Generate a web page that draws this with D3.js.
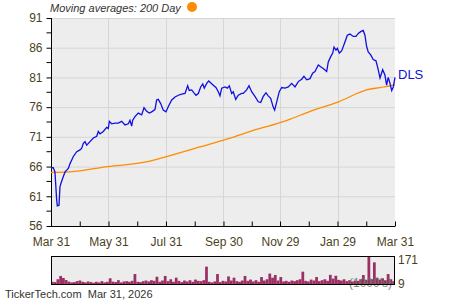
<!DOCTYPE html>
<html>
<head>
<meta charset="utf-8">
<script src="https://cdn.jsdelivr.net/npm/d3@7"></script>
<style>
  body { margin: 0; background: #fff; }
  svg { font-family: "Liberation Sans", Arial, sans-serif; }
</style>
</head>
<body>
<svg width="450" height="300"></svg>
<script>
// days after 2025-03-31 and the price
const priceDays = [0, 2.4, 4.2, 6, 6.7, 8.5, 9.5, 10.6, 13, 14.9, 18.4, 20.2, 22, 23.7, 27.3, 30.8, 32.6, 34.3, 36.1, 37.9,
  41.4, 44.9, 48.5, 50.2, 52, 55.5, 59.1, 60.8, 61.9, 64.4, 67.9, 71.4, 75, 78.5, 82, 83.8, 85.6, 86.7, 89.1, 92.6,
  96.2, 98.7, 101.6, 104.3, 106.8, 110.3, 112.1, 113.8, 116.4, 119.1, 122, 124.5, 128.1, 131.6, 135.1, 138.7, 142.2, 145, 146.7, 149.3,
  151.7, 153.8, 156.3, 158.8, 161, 162.6, 165.2, 167.3, 169.4, 172.2, 175, 177.5, 179.3, 181.1, 184.6, 187.1, 189.2, 191.7, 193.4, 196,
  198.7, 202.3, 204, 207.6, 210.1, 212.9, 216.4, 219.9, 222.5, 225.2, 228.1, 230.5, 233.1, 235.8, 237.3, 239.5, 242.2, 244.8, 248.3, 251.8,
  255.4, 258.9, 262.4, 266, 268.4, 271.3, 274.8, 277.6, 280.1, 283.6, 286.1, 288.9, 292.5, 294.2, 296.8, 298.9, 300.3, 302.4, 303.8, 305.9,
  308.5, 312, 314.4, 317.2, 320.7, 323.6, 326, 328.6, 331.3, 333.1, 334.9, 336.6, 339.2, 341.9, 344.8, 347.2, 349.1, 351.9, 354.3, 356.1,
  357.8, 359.7, 361.5, 363.2, 365];
const priceValues = [65.8, 65.8, 65.1, 60.4, 59.4, 59.5, 62.6, 63.2, 64.3, 65.1, 65.7, 66.5, 67.1, 67.7, 68.5, 68.8, 69.1, 69.9, 70.2, 69.6,
  70.2, 70.8, 71.1, 71.9, 71.5, 71.9, 72.6, 72.4, 73.6, 73.2, 73.3, 73.3, 73.6, 73.0, 73.2, 73.8, 72.8, 73.8, 74.4, 75.0,
  74.7, 75.9, 75.3, 75.0, 75.2, 75.6, 77.2, 77.3, 76.6, 75.5, 75.2, 76.1, 77.2, 77.7, 78.0, 78.2, 78.3, 79.6, 78.8, 78.9,
  78.4, 78.0, 78.3, 79.4, 79.9, 79.2, 80.0, 80.4, 80.1, 79.7, 79.3, 78.6, 77.9, 79.2, 79.4, 79.2, 79.6, 78.3, 78.6, 77.3,
  78.0, 78.3, 78.3, 78.9, 79.6, 78.6, 77.8, 76.9, 76.8, 77.8, 78.4, 77.9, 77.5, 76.0, 75.5, 76.9, 78.6, 79.3, 79.2, 79.4,
  80.0, 79.4, 80.3, 80.7, 81.2, 80.6, 80.8, 81.7, 82.0, 83.1, 82.8, 82.5, 82.0, 83.6, 84.5, 85.1, 86.1, 85.6, 85.9, 85.1,
  85.5, 87.0, 88.1, 88.3, 87.9, 87.9, 88.4, 88.7, 88.9, 88.1, 86.2, 85.3, 84.8, 84.0, 83.8, 82.3, 80.9, 82.3, 81.4, 79.7,
  81.0, 80.0, 78.8, 79.4, 81.0];

// 200 day moving average
const maDays = [0, 20, 60, 105, 112, 158, 190, 211, 243, 254, 275, 305, 335, 349, 363, 365];
const maValues = [65.0, 65.1, 66.0, 66.9, 67.2, 69.3, 70.8, 71.9, 73.4, 74.0, 75.3, 76.9, 78.9, 79.3, 79.7, 79.8];

// volume in 1000's, one bar per two trading days
const volumes = [14, 12, 30, 51, 38, 25, 15, 10, 12, 18, 22, 14, 10, 16, 12, 8, 14, 10, 18, 10,
  14, 36, 15, 12, 24, 10, 16, 18, 14, 20, 63, 14, 12, 18, 22, 16, 24, 20, 46, 14,
  22, 51, 18, 30, 14, 40, 20, 12, 22, 16, 24, 14, 28, 20, 18, 24, 110, 14, 10, 16,
  63, 12, 20, 16, 48, 22, 40, 18, 14, 22, 51, 20, 28, 16, 24, 14, 44, 22, 30, 66,
  40, 57, 22, 44, 16, 20, 14, 22, 18, 24, 30, 78, 20, 16, 28, 22, 44, 18, 24, 30,
  20, 58, 34, 52, 26, 22, 30, 18, 24, 16, 22, 20, 30, 57, 26, 171, 30, 137, 40, 28,
  36, 22, 63, 30, 18];

const tickDates = ['2025-03-31', '2025-05-31', '2025-07-31', '2025-09-30', '2025-11-29', '2026-01-29', '2026-03-31'];
const tickLabels = ['Mar 31', 'May 31', 'Jul 31', 'Sep 30', 'Nov 29', 'Jan 29', 'Mar 31'];
const yTicks = [56, 61, 66, 71, 76, 81, 86, 91];
const volTicks = [9, 171];

const parse = d3.timeParse('%Y-%m-%d');
const startDate = parse('2025-03-31');
const endDate = parse('2026-03-31');
const toDate = d => new Date(startDate.getTime() + d * 86400000);

const plotLeft = 51, plotRight = 395, plotTop = 18, plotBottom = 226;
const svg = d3.select('svg');
const labelColor = '#4d3f1c';

const x = d3.scaleTime().domain([startDate, endDate]).range([plotLeft, plotRight]);
const y = d3.scaleLinear().domain([56, 91]).range([plotBottom, plotTop]);

// plot background
svg.append('rect')
  .attr('x', plotLeft).attr('y', plotTop)
  .attr('width', plotRight - plotLeft).attr('height', plotBottom - plotTop)
  .attr('fill', '#ededed');

// grid
svg.append('g').selectAll('line')
  .data(yTicks)
  .join('line')
  .attr('x1', plotLeft).attr('x2', plotRight)
  .attr('y1', d => y(d) + 0.5).attr('y2', d => y(d) + 0.5)
  .attr('stroke', '#d6d6d6');

const majorDates = tickDates.map(parse);
svg.append('g').selectAll('line')
  .data(majorDates.slice(1, -1))
  .join('line')
  .attr('x1', d => Math.round(x(d)) + 0.5).attr('x2', d => Math.round(x(d)) + 0.5)
  .attr('y1', plotTop).attr('y2', plotBottom)
  .attr('stroke', '#d6d6d6');

// y axis
const minorY = d3.range(0, yTicks.length - 1).map(i => (yTicks[i] + yTicks[i + 1]) / 2);
const yAxis = svg.append('g')
  .attr('transform', `translate(${plotLeft + 0.5},0)`)
  .call(d3.axisLeft(y).tickValues(yTicks).tickSize(5).tickPadding(4));
yAxis.append('g').selectAll('line')
  .data(minorY)
  .join('line')
  .attr('x1', -5).attr('x2', 0)
  .attr('y1', d => y(d)).attr('y2', d => y(d))
  .attr('stroke', '#000');
yAxis.select('.domain').attr('d', `M0,${plotTop}V${plotBottom}`);
yAxis.selectAll('text').attr('fill', labelColor).attr('font-size', 12).attr('font-family', null);
yAxis.selectAll('line').attr('stroke', '#000');

// x axis
const minorX = d3.range(0, majorDates.length - 1)
  .map(i => new Date((majorDates[i].getTime() + majorDates[i + 1].getTime()) / 2));
const xAxis = svg.append('g')
  .attr('transform', `translate(0,${plotBottom + 0.5})`)
  .call(d3.axisBottom(x).tickValues(majorDates.concat(minorX)).tickSize(0)
    .tickFormat(d => {
      const i = majorDates.findIndex(m => m.getTime() === d.getTime());
      return i >= 0 ? tickLabels[i] : '';
    }).tickPadding(11));
xAxis.select('.domain').attr('d', `M${plotLeft},0H${plotRight}`);
xAxis.selectAll('.tick line').attr('y2', -5).attr('stroke', '#000');
xAxis.selectAll('text').attr('fill', labelColor).attr('font-size', 12).attr('font-family', null);

// moving average line
const ma = maDays.map((d, i) => ({ date: toDate(d), value: maValues[i] }));
svg.append('path')
  .datum(ma)
  .attr('fill', 'none')
  .attr('stroke', '#ff8c00')
  .attr('stroke-width', 1.3)
  .attr('d', d3.line().x(d => x(d.date)).y(d => y(d.value)).curve(d3.curveMonotoneX));

// price line
const price = priceDays.map((d, i) => ({ date: toDate(d), value: priceValues[i] }));
svg.append('path')
  .datum(price)
  .attr('fill', 'none')
  .attr('stroke', '#1010e0')
  .attr('stroke-width', 1.3)
  .attr('d', d3.line().x(d => x(d.date)).y(d => y(d.value)));

svg.append('text')
  .attr('x', plotRight + 3).attr('y', y(priceValues[priceValues.length - 1]) - 3)
  .attr('dy', '0.35em')
  .attr('fill', '#1010d0').attr('font-size', 13)
  .text('DLS');

// legend
svg.append('text')
  .attr('x', 50).attr('y', 12)
  .attr('font-size', 11).attr('font-style', 'italic').attr('fill', '#333')
  .text('Moving averages: 200 Day');
svg.append('circle')
  .attr('cx', 192).attr('cy', 7).attr('r', 5)
  .attr('fill', '#ff8c00');

// volume panel
const vTop = 256, vBottom = 285;
const xv = d3.scaleBand().domain(d3.range(volumes.length)).range([plotLeft, plotRight]);
const yv = d3.scaleLinear().domain([0, 171]).range([vBottom - 1, vTop + 1]);

svg.append('rect')
  .attr('x', plotLeft).attr('y', vTop)
  .attr('width', plotRight - plotLeft).attr('height', vBottom - vTop)
  .attr('fill', '#ececec');

svg.append('g').selectAll('rect')
  .data(volumes)
  .join('rect')
  .attr('x', (d, i) => xv(i))
  .attr('width', xv.bandwidth())
  .attr('y', d => yv(d))
  .attr('height', d => yv(0) - yv(d))
  .attr('fill', '#9c2f63');

svg.append('text')
  .attr('x', plotRight - 3).attr('y', 287)
  .attr('text-anchor', 'end')
  .attr('font-size', 12).attr('fill', '#5d7a5d').attr('opacity', 0.85)
  .text("(1000's)");

svg.append('rect')
  .attr('x', plotLeft + 0.5).attr('y', vTop + 0.5)
  .attr('width', plotRight - plotLeft - 1).attr('height', vBottom - vTop - 1)
  .attr('fill', 'none').attr('stroke', '#000');

svg.append('g').selectAll('text')
  .data(volTicks)
  .join('text')
  .attr('x', plotRight + 3).attr('y', d => yv(d) + 4)
  .attr('font-size', 12).attr('fill', labelColor)
  .attr('dy', d => d === 171 ? 3 : 1)
  .text(d => d);

svg.append('text')
  .attr('x', 5).attr('y', 298)
  .attr('font-size', 11).attr('fill', '#333')
  .style('white-space', 'pre')
  .text('TickerTech.com  Mar 31, 2026');
</script>
</body>
</html>
